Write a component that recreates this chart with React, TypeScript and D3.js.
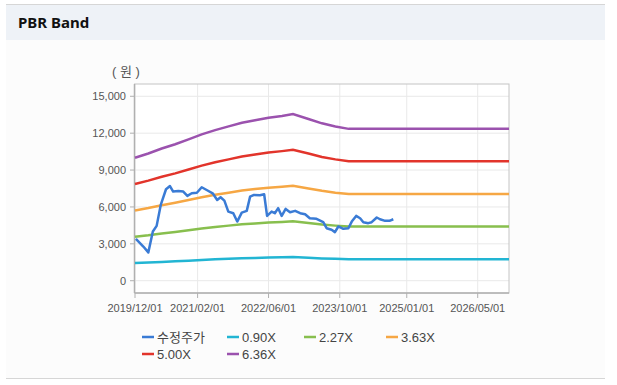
import React from "react";
import * as d3 from "d3";

// band dates (month starts) and band values
const bandDates = [
  "2019-12-01", "2020-03-01", "2020-06-01", "2020-09-01", "2020-12-01",
  "2021-03-01", "2021-06-01", "2021-09-01", "2021-12-01", "2022-03-01",
  "2022-06-01", "2022-09-01", "2022-11-15", "2023-03-01", "2023-06-01",
  "2023-09-01", "2023-12-01", "2026-12-01",
];
const band090 = [1450, 1480, 1530, 1575, 1630, 1690, 1740, 1780, 1820, 1850, 1880, 1900, 1920, 1865, 1815, 1780, 1755, 1755];
const band227 = [3570, 3690, 3840, 3960, 4100, 4250, 4370, 4480, 4590, 4660, 4730, 4780, 4840, 4690, 4570, 4480, 4410, 4410];
const band363 = [5710, 5910, 6140, 6340, 6560, 6790, 6990, 7160, 7330, 7450, 7560, 7650, 7730, 7500, 7310, 7160, 7050, 7050];
const band500 = [7860, 8140, 8450, 8730, 9040, 9360, 9630, 9870, 10100, 10260, 10420, 10540, 10650, 10340, 10060, 9870, 9710, 9710];
const band636 = [10000, 10350, 10750, 11100, 11500, 11900, 12250, 12550, 12850, 13050, 13250, 13400, 13550, 13150, 12800, 12550, 12350, 12350];

// 수정주가
const priceDates = [
  "2019-12-07", "2020-01-27", "2020-03-01", "2020-04-01", "2020-04-27", "2020-05-25",
  "2020-06-30", "2020-07-27", "2020-08-18", "2020-09-22", "2020-10-26", "2020-11-23",
  "2020-12-23", "2021-01-27", "2021-03-01", "2021-04-04", "2021-05-15", "2021-06-15",
  "2021-07-08", "2021-08-03", "2021-08-30", "2021-10-03", "2021-10-30", "2021-11-30",
  "2022-01-03", "2022-01-26", "2022-02-18", "2022-04-03", "2022-05-02", "2022-05-22",
  "2022-06-22", "2022-07-14", "2022-08-06", "2022-08-30", "2022-09-26", "2022-10-26",
  "2022-11-30", "2023-01-03", "2023-02-06", "2023-03-10", "2023-04-25", "2023-06-10",
  "2023-07-03", "2023-08-06", "2023-08-29", "2023-09-21", "2023-10-25", "2023-11-29",
  "2023-12-22", "2024-01-21", "2024-02-17", "2024-03-10", "2024-04-13", "2024-05-06",
  "2024-06-10", "2024-07-02", "2024-08-06", "2024-09-05", "2024-10-01",
];
const priceValues = [
  3410, 2780, 2300, 4000, 4460, 6160,
  7440, 7700, 7250, 7300, 7250, 6900,
  7110, 7150, 7600, 7380, 7110, 6570,
  6790, 6510, 5620, 5490, 4810, 5540,
  5680, 6840, 6970, 6950, 7030, 5270,
  5620, 5490, 5900, 5270, 5840, 5570,
  5680, 5490, 5410, 5080, 5030, 4760,
  4270, 4140, 3950, 4410, 4220, 4270,
  4810, 5270, 5080, 4760, 4680, 4760,
  5140, 5000, 4870, 4870, 5000,
];

const yTicks = [0, 3000, 6000, 9000, 12000, 15000];
const xTicks = ["2019-12-01", "2021-02-01", "2022-06-01", "2023-10-01", "2025-01-01", "2026-05-01"];

const series = [
  { name: "0.90X", values: band090, color: "#22b5d3" },
  { name: "2.27X", values: band227, color: "#88bf4e" },
  { name: "3.63X", values: band363, color: "#f6a744" },
  { name: "5.00X", values: band500, color: "#e2342b" },
  { name: "6.36X", values: band636, color: "#9b52ae" },
];
const priceColor = "#3a7bd5";

const legend = [
  { name: "수정주가", color: priceColor, x: 142, row: 0 },
  { name: "0.90X", color: "#22b5d3", x: 227, row: 0 },
  { name: "2.27X", color: "#88bf4e", x: 304, row: 0 },
  { name: "3.63X", color: "#f6a744", x: 386, row: 0 },
  { name: "5.00X", color: "#e2342b", x: 142, row: 1 },
  { name: "6.36X", color: "#9b52ae", x: 227, row: 1 },
];

const font = "'Liberation Sans', Arial, 'Noto Sans CJK KR', sans-serif";

export default function App() {
  const left = 135, right = 509, top = 84, bottom = 293;
  const parse = d3.timeParse("%Y-%m-%d");
  const fmt = d3.timeFormat("%Y/%m/%d");

  const x = d3.scaleTime()
    .domain([parse("2019-12-01")!, parse("2026-12-01")!])
    .range([left, right]);
  const y = d3.scaleLinear().domain([-1000, 16000]).range([bottom, top]);

  const line = d3.line<[Date, number]>()
    .x((d) => x(d[0]))
    .y((d) => y(d[1]));

  const bandPts = (vals: number[]) =>
    bandDates.map((d, i) => [parse(d)!, vals[i]] as [Date, number]);
  const pricePts = priceDates.map((d, i) => [parse(d)!, priceValues[i]] as [Date, number]);

  return (
    <svg width={617} height={385} style={{ position: "absolute", left: 0, top: 0 }}>
      <rect x={0} y={0} width={617} height={385} fill="#ffffff" />
      <rect x={6} y={5} width={599} height={373} fill="#fcfcfc" />
      <rect x={6} y={5} width={599} height={35} fill="#eef2f7" />
      <line x1={6} x2={605} y1={4.5} y2={4.5} stroke="#d6d6d6" />
      <line x1={6} x2={605} y1={378.5} y2={378.5} stroke="#d6d6d6" />
      <text x={18} y={28} fontFamily="'Noto Sans', 'Noto Sans CJK KR', sans-serif" fontWeight="bold" fontSize={15} fill="#111">
        PBR Band
      </text>

      <rect x={left} y={top} width={right - left} height={bottom - top} fill="#ffffff" />
      {yTicks.map((t) => (
        <line key={"gy" + t} x1={left} x2={right} y1={y(t)} y2={y(t)} stroke="#e9e9e9" />
      ))}
      {xTicks.map((t) => (
        <line key={"gx" + t} x1={x(parse(t)!)} x2={x(parse(t)!)} y1={top} y2={bottom} stroke="#e9e9e9" />
      ))}
      <rect x={left - 0.5} y={top} width={right - left + 0.5} height={bottom - top} fill="none" stroke="#c4c4c4" />
      <line x1={left - 0.5} x2={left - 0.5} y1={top} y2={bottom} stroke="#b0b0b0" strokeWidth={1.5} />
      <line x1={left} x2={right} y1={bottom} y2={bottom} stroke="#b0b0b0" strokeWidth={1.5} />

      {yTicks.map((t) => (
        <g key={"ty" + t}>
          <line x1={left - 5} x2={left} y1={y(t)} y2={y(t)} stroke="#b0b0b0" />
          <text x={left - 9} y={y(t) + 4} textAnchor="end" fontFamily={font} fontSize={11} fill="#555">
            {d3.format(",")(t)}
          </text>
        </g>
      ))}
      {xTicks.map((t) => (
        <g key={"tx" + t}>
          <line x1={x(parse(t)!)} x2={x(parse(t)!)} y1={bottom} y2={bottom + 5} stroke="#b0b0b0" />
          <text x={x(parse(t)!)} y={bottom + 19} textAnchor="middle" fontFamily={font} fontSize={11} fill="#555">
            {fmt(parse(t)!)}
          </text>
        </g>
      ))}
      <text x={112} y={76} fontFamily={font} fontSize={13} fill="#555">( 원 )</text>

      {series.map((s) => (
        <path key={s.name} d={line(bandPts(s.values)) || ""} fill="none" stroke={s.color} strokeWidth={2.5} />
      ))}
      <path d={line(pricePts) || ""} fill="none" stroke={priceColor} strokeWidth={2.5} strokeLinejoin="round" />

      {legend.map((l) => {
        const cy = 337 + l.row * 17;
        return (
          <g key={l.name}>
            <line x1={l.x} x2={l.x + 12} y1={cy} y2={cy} stroke={l.color} strokeWidth={2.5} />
            <text x={l.x + 15} y={cy + 5} fontFamily={font} fontSize={13} fill="#444">
              {l.name}
            </text>
          </g>
        );
      })}
    </svg>
  );
}
